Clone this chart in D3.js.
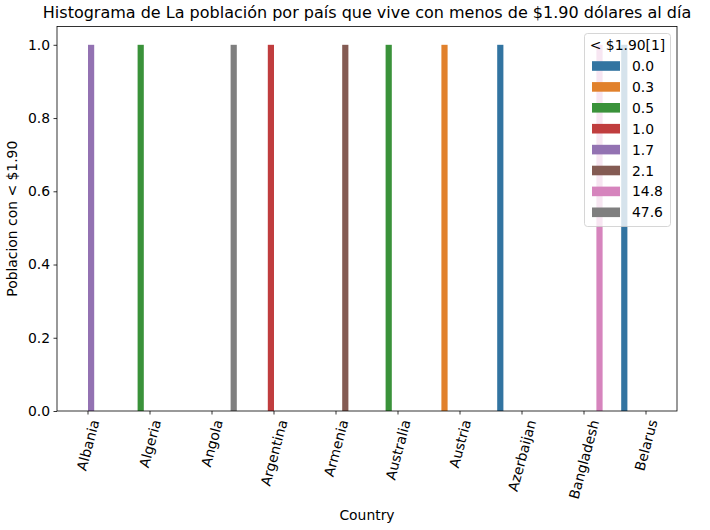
<!DOCTYPE html>
<html>
<head>
<meta charset="utf-8">
<script src="https://cdn.jsdelivr.net/npm/d3@7"></script>
<style>
  body { margin: 0; background: #fff; }
  text { font-family: "DejaVu Sans", sans-serif; fill: #000; }
</style>
</head>
<body>
<svg id="chart" width="710" height="530"></svg>
<script>
const countries = ["Albania","Algeria","Angola","Argentina","Armenia","Australia","Austria","Azerbaijan","Bangladesh","Belarus"];
const hueLevels = ["0.0","0.3","0.5","1.0","1.7","2.1","14.8","47.6"];
const countryHue = ["1.7","0.5","47.6","1.0","2.1","0.5","0.3","0.0","14.8","0.0"];
const counts = [1,1,1,1,1,1,1,1,1,1];
const hueColors = ["#3274a1","#e1812c","#3a923a","#c03d3e","#9372b2","#845b53","#d684bd","#7f7f7f"];
const yTicks = [0,0.2,0.4,0.6,0.8,1.0];

const titleText = "Histograma de La población por país que vive con menos de $1.90 dólares al día";
const xLabel = "Country";
const yLabel = "Poblacion con < $1.90";
const legendTitle = "< $1.90[1]";

const svg = d3.select("#chart");
const L = 57, R = 677, T = 26.5, B = 411;
const fs = 13.9;

const x = d3.scaleBand().domain(countries).range([L, R]).paddingInner(0).paddingOuter(0);
const bw = x.bandwidth();
const xh = d3.scaleBand().domain(hueLevels).range([0.1*bw, 0.9*bw]).padding(0);
const y = d3.scaleLinear().domain([0, 1.05]).range([B, T]);
const color = d3.scaleOrdinal().domain(hueLevels).range(hueColors);

const data = countries.map((c,i) => ({country: c, hue: countryHue[i], count: counts[i]}));

// bars
svg.append("g").selectAll("rect").data(data).join("rect")
  .attr("x", d => x(d.country) + xh(d.hue))
  .attr("y", d => y(d.count))
  .attr("width", xh.bandwidth())
  .attr("height", d => y(0) - y(d.count))
  .attr("fill", d => color(d.hue));

// y axis
const yAxis = svg.append("g").attr("transform", `translate(${L},0)`)
  .call(d3.axisLeft(y).tickValues(yTicks).tickFormat(d3.format(".1f")).tickSizeOuter(0).tickSize(3.5).tickPadding(3.5));
yAxis.select(".domain").remove();
yAxis.selectAll(".tick line").attr("stroke", "#000").attr("stroke-width", 0.8);
yAxis.selectAll(".tick text").style("font-size", fs + "px").style("font-family", "DejaVu Sans");

// x axis ticks
const xAxis = svg.append("g").attr("transform", `translate(0,${B})`)
  .call(d3.axisBottom(x).tickSizeOuter(0).tickSize(3.5).tickFormat(""));
xAxis.select(".domain").remove();
xAxis.selectAll(".tick line").attr("stroke", "#000").attr("stroke-width", 0.8);

// rotated tick labels, bbox centered on tick
const rot = 75 * Math.PI / 180;
const lblG = svg.append("g");
countries.forEach(c => {
  const t = lblG.append("text").text(c)
    .style("font-size", fs + "px")
    .attr("text-anchor", "middle")
    .attr("dominant-baseline", "central");
  const bb = t.node().getBBox();
  const w = bb.width, h = fs * 1.16;
  const H = w * Math.sin(rot) + h * Math.cos(rot);
  const cx = x(c) + bw/2, cy = B + 3.5 + 3.5 + H/2;
  t.attr("transform", `translate(${cx},${cy}) rotate(-75)`);
});

// spines
const sp = svg.append("g").attr("fill","none").attr("stroke","#000").attr("stroke-width",0.8);
sp.append("rect").attr("x", L).attr("y", T).attr("width", R-L).attr("height", B-T);

// labels
svg.append("text").text(titleText).attr("x", (L+R)/2).attr("y", 17.5)
  .attr("text-anchor","middle").style("font-size","16px");
svg.append("text").text(xLabel).attr("x", (L+R)/2).attr("y", 520)
  .attr("text-anchor","middle").style("font-size", fs + "px");
svg.append("text").text(yLabel)
  .attr("transform", `translate(16.5,${(T+B)/2}) rotate(-90)`)
  .attr("text-anchor","middle").style("font-size", fs + "px");

// legend
const lg = svg.append("g");
const lx = 584.5, ly = 33.5, lw = 86, lh = 193;
lg.append("rect").attr("x", lx).attr("y", ly).attr("width", lw).attr("height", lh)
  .attr("rx", 3).attr("fill", "#fff").attr("fill-opacity", 0.8)
  .attr("stroke", "#cccccc").attr("stroke-width", 0.8);
lg.append("text").text(legendTitle).attr("x", lx + lw/2).attr("y", 45)
  .attr("text-anchor","middle").attr("dominant-baseline","central").style("font-size", fs + "px");
hueLevels.forEach((h, i) => {
  const cy = 66 + i * 20.9;
  lg.append("rect").attr("x", 592).attr("y", cy - 4.8).attr("width", 28).attr("height", 9.6)
    .attr("fill", color(h));
  lg.append("text").text(h).attr("x", 632).attr("y", cy)
    .attr("dominant-baseline","central").style("font-size", fs + "px");
});
</script>
</body>
</html>
